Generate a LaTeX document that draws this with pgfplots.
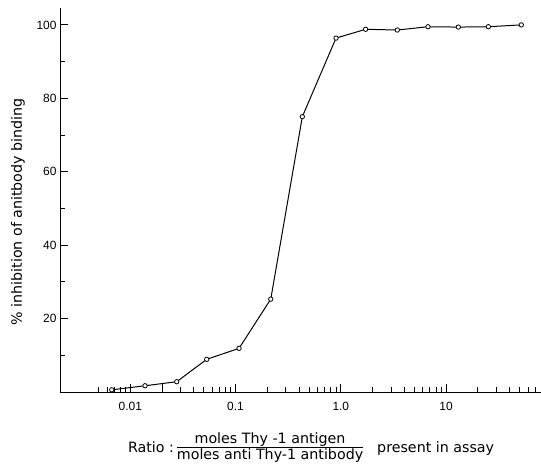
\documentclass[border=0pt]{standalone}
\usepackage{fontspec}
\setmainfont{Liberation Sans}
\newfontfamily\labelfont{DejaVu Sans}
\usepackage{pgfplots}
\pgfplotsset{compat=1.18}
\setlength{\arrayrulewidth}{0.8pt}

\begin{document}
\begin{tikzpicture}
  \begin{axis}[
      xmode=log,
      scale only axis,
      width=481bp, height=384bp,
      xmin=0.00215, xmax=79.7,
      ymin=0, ymax=104.6,
      axis lines=left,
      axis line style={-, line width=0.9pt},
      xtick={0.01,0.1,1,10},
      xticklabels={0.01,0.1,1.0,10},
      extra x ticks={0.02},
      extra x tick labels={},
      minor xtick={0.005,0.006,0.007,0.008,0.009,
                   0.03,0.04,0.05,0.06,0.07,0.08,0.09,
                   0.2,0.3,0.4,0.5,0.6,0.7,0.8,0.9,
                   2,3,4,5,6,7,8,9,
                   20,30,40,50,60,70},
      ytick={20,40,60,80,100},
      minor ytick={10,30,50,70,90},
      tick align=inside,
      major tick length=8.5bp, minor tick length=5.5bp,
      tick style={line width=0.8pt, black},
      /pgf/number format/assume math mode=true,
      ticklabel style={font=\fontsize{12}{14}\selectfont},
      xticklabel style={yshift=-7bp},
      label style={font=\labelfont\fontsize{14.3}{17}\selectfont},
      ylabel={\% inhibition of anitbody binding},
      ylabel style={at={(axis description cs:-0.0873,0.469)}, anchor=center},
      xlabel={Ratio :\hspace{3bp}\begin{tabular}{@{}c@{}}moles Thy -1 antigen\\[-2pt]\hline moles anti Thy-1 antibody\end{tabular}\hspace{14bp}present in assay},
      xlabel style={at={(axis description cs:0.522,-0.147)}, anchor=center},
    ]
    \addplot[black, line width=1pt, mark=*, mark size=2.2bp,
             mark options={fill=white, draw=black, line width=0.8pt}] coordinates {
      (0.00667,0.6) (0.0138,1.7) (0.0276,2.8) (0.0532,8.9) (0.108,11.9)
      (0.216,25.3) (0.431,75.0) (0.90,96.4) (1.72,98.8) (3.44,98.6)
      (6.73,99.5) (13.06,99.4) (25.2,99.5) (51.8,100)
    };
  \end{axis}
  \pgfresetboundingbox
  \useasboundingbox ([shift={(-60bp,-76bp)}]current axis.south west)
    rectangle ([shift={(0bp,8bp)}]current axis.north east);
\end{tikzpicture}
\end{document}
